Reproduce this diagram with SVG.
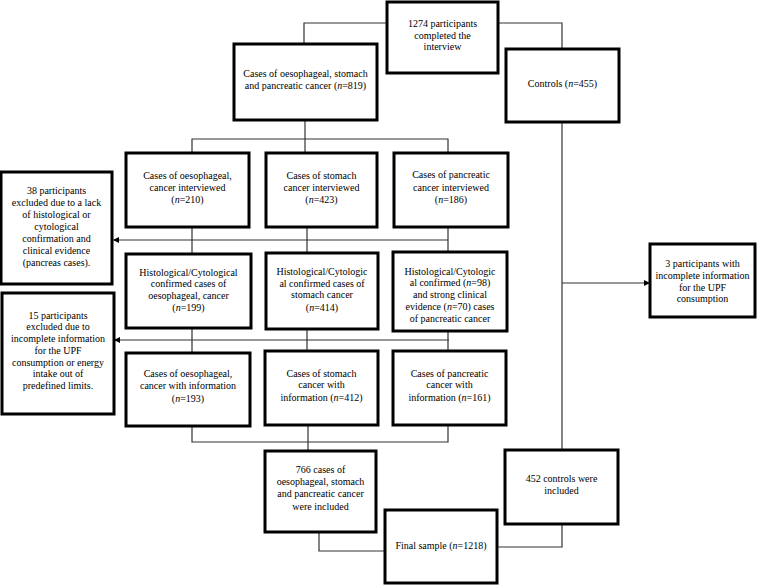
<svg xmlns="http://www.w3.org/2000/svg" width="767" height="585" viewBox="0 0 767 585">
  <style>
    .box { fill: #ffffff; stroke: #000000; stroke-width: 3; }
    .ln { fill: none; stroke: #333333; stroke-width: 1.2; }
    text { font-family: "Liberation Serif", "DejaVu Serif", serif; font-size: 10px; fill: #000000; text-anchor: middle; }
    .it { font-style: italic; }
  </style>
  <defs>
    <marker id="arrow" viewBox="0 0 8 8" refX="8" refY="4" markerWidth="6" markerHeight="6" markerUnits="userSpaceOnUse" orient="auto">
      <path d="M0,0 L8,4 L0,8 Z" fill="#000000"/>
    </marker>
  </defs>
  <rect width="767" height="585" fill="#ffffff"/>

  <g id="connectors">
    <path class="ln" d="M387,23 H304 V44"/>
    <path class="ln" d="M498,23 H562 V49"/>
    <path class="ln" d="M305,120 V153"/>
    <path class="ln" d="M192,153 V139 H448 V153"/>
    <path class="ln" d="M192,227 V254 M192,328 V353"/>
    <path class="ln" d="M307,227 V253 M307,329 V351"/>
    <path class="ln" d="M448,227 V252 M448,331 V351"/>
    <path class="ln" d="M448,240 H113" marker-end="url(#arrow)"/>
    <path class="ln" d="M449,340 H114" marker-end="url(#arrow)"/>
    <path class="ln" d="M192,426 V442 H448 V425"/>
    <path class="ln" d="M308,425 V451"/>
    <path class="ln" d="M319,532 V551 H385"/>
    <path class="ln" d="M497,547 H562 V524"/>
    <path class="ln" d="M562,122 V450"/>
    <path class="ln" d="M562,283 H650" marker-end="url(#arrow)"/>
  </g>

  <g font-family="Liberation Serif, serif">
  <g id="n-total">
    <rect class="box" x="387" y="2" width="111" height="71"/>
    <text x="442.5" y="27">1274 participants</text>
    <text x="442.5" y="38.5">completed the</text>
    <text x="442.5" y="50">interview</text>
  </g>

  <g id="n-cases">
    <rect class="box" x="234" y="44" width="143" height="76"/>
    <text x="305.5" y="76.5">Cases of oesophageal, stomach</text>
    <text x="305.5" y="88.5">and pancreatic cancer (<tspan class="it">n</tspan>=819)</text>
  </g>

  <g id="n-controls">
    <rect class="box" x="506" y="49" width="113" height="73"/>
    <text x="562.5" y="86.5">Controls (<tspan class="it">n</tspan>=455)</text>
  </g>

  <g id="n-oes-int">
    <rect class="box" x="126" y="153" width="123" height="74"/>
    <text x="187.5" y="178.5">Cases of oesophageal,</text>
    <text x="187.5" y="190.5">cancer interviewed</text>
    <text x="187.5" y="203">(<tspan class="it">n</tspan>=210)</text>
  </g>

  <g id="n-sto-int">
    <rect class="box" x="266" y="153" width="111" height="74"/>
    <text x="321.5" y="178.5">Cases of stomach</text>
    <text x="321.5" y="190.5">cancer interviewed</text>
    <text x="321.5" y="203">(<tspan class="it">n</tspan>=423)</text>
  </g>

  <g id="n-pan-int">
    <rect class="box" x="394" y="153" width="114" height="74"/>
    <text x="451" y="178">Cases of pancreatic</text>
    <text x="451" y="190.5">cancer interviewed</text>
    <text x="451" y="203">(<tspan class="it">n</tspan>=186)</text>
  </g>

  <g id="n-excl-38">
    <rect class="box" x="1" y="172" width="111" height="112"/>
    <text x="56.5" y="194">38 participants</text>
    <text x="56.5" y="206">excluded due to a lack</text>
    <text x="56.5" y="218">of histological or</text>
    <text x="56.5" y="230">cytological</text>
    <text x="56.5" y="242">confirmation and</text>
    <text x="56.5" y="254">clinical evidence</text>
    <text x="56.5" y="266">(pancreas cases).</text>
  </g>

  <g id="n-oes-hist">
    <rect class="box" x="126" y="254" width="125" height="74"/>
    <text x="188.5" y="275.5">Histological/Cytological</text>
    <text x="188.5" y="287">confirmed cases of</text>
    <text x="188.5" y="298.5">oesophageal, cancer</text>
    <text x="188.5" y="310.5">(<tspan class="it">n</tspan>=199)</text>
  </g>

  <g id="n-sto-hist">
    <rect class="box" x="266" y="253" width="112" height="76"/>
    <text x="322" y="274.5">Histological/Cytologic</text>
    <text x="322" y="286.5">al confirmed cases of</text>
    <text x="322" y="297.5">stomach cancer</text>
    <text x="322" y="310.5">(<tspan class="it">n</tspan>=414)</text>
  </g>

  <g id="n-pan-hist">
    <rect class="box" x="393" y="252" width="114" height="79"/>
    <text x="450" y="274.5">Histological/Cytologic</text>
    <text x="450" y="286">al confirmed (<tspan class="it">n</tspan>=98)</text>
    <text x="450" y="297.5">and strong clinical</text>
    <text x="450" y="310">evidence (<tspan class="it">n</tspan>=70) cases</text>
    <text x="450" y="321.5">of pancreatic cancer</text>
  </g>

  <g id="n-excl-15">
    <rect class="box" x="2" y="293" width="112" height="121"/>
    <text x="58" y="318.5">15 participants</text>
    <text x="58" y="330">excluded due to</text>
    <text x="58" y="341.5">incomplete information</text>
    <text x="58" y="353.5">for the UPF</text>
    <text x="58" y="365.5">consumption or energy</text>
    <text x="58" y="377">intake out of</text>
    <text x="58" y="389">predefined limits.</text>
  </g>

  <g id="n-oes-info">
    <rect class="box" x="126" y="353" width="124" height="73"/>
    <text x="188" y="376.5">Cases of oesophageal,</text>
    <text x="188" y="389">cancer with information</text>
    <text x="188" y="401.5">(<tspan class="it">n</tspan>=193)</text>
  </g>

  <g id="n-sto-info">
    <rect class="box" x="265" y="351" width="113" height="74"/>
    <text x="321.5" y="376.5">Cases of stomach</text>
    <text x="321.5" y="388">cancer with</text>
    <text x="321.5" y="400.5">information (<tspan class="it">n</tspan>=412)</text>
  </g>

  <g id="n-pan-info">
    <rect class="box" x="393" y="351" width="113" height="74"/>
    <text x="449.5" y="376.5">Cases of pancreatic</text>
    <text x="449.5" y="388">cancer with</text>
    <text x="449.5" y="400.5">information (<tspan class="it">n</tspan>=161)</text>
  </g>

  <g id="n-upf">
    <rect class="box" x="650" y="244" width="105" height="73"/>
    <text x="702.5" y="266.5">3 participants with</text>
    <text x="702.5" y="278.5">incomplete information</text>
    <text x="702.5" y="290.5">for the UPF</text>
    <text x="702.5" y="301.5">consumption</text>
  </g>

  <g id="n-cases-incl">
    <rect class="box" x="265" y="451" width="111" height="81"/>
    <text x="320.5" y="472.5">766 cases of</text>
    <text x="320.5" y="485">oesophageal, stomach</text>
    <text x="320.5" y="496.5">and pancreatic cancer</text>
    <text x="320.5" y="509.5">were included</text>
  </g>

  <g id="n-controls-incl">
    <rect class="box" x="505" y="450" width="113" height="74"/>
    <text x="561.5" y="481.5">452 controls were</text>
    <text x="561.5" y="493.5">included</text>
  </g>

  <g id="n-final">
    <rect class="box" x="385" y="510" width="112" height="73"/>
    <text x="441" y="548.5">Final sample (<tspan class="it">n</tspan>=1218)</text>
  </g>
  </g>
</svg>
